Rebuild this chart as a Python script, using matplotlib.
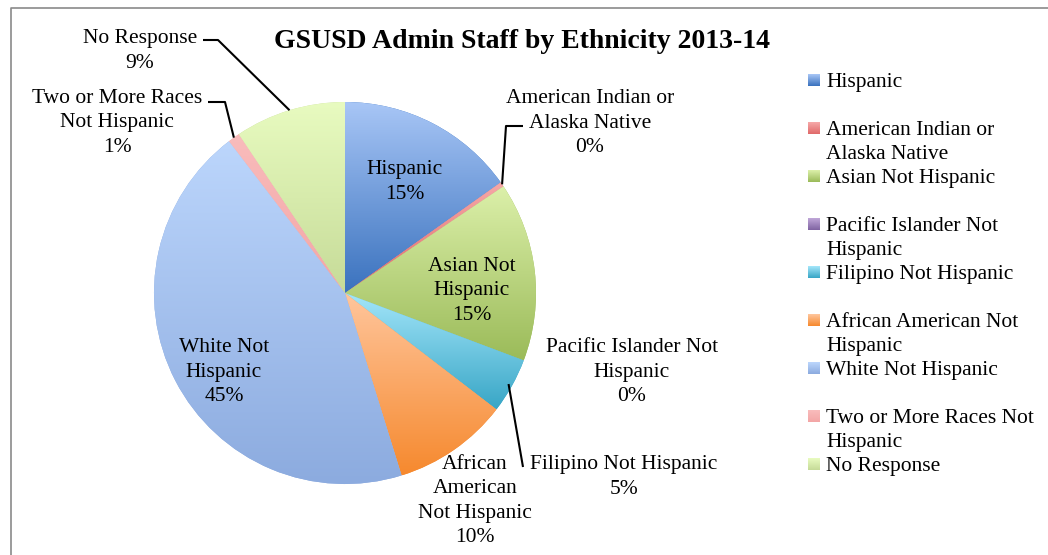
import matplotlib.pyplot as plt
import numpy as np
from matplotlib.colors import LinearSegmentedColormap
from matplotlib.patches import Rectangle

categories = ['Hispanic', 'American Indian or Alaska Native', 'Asian Not Hispanic',
              'Pacific Islander Not Hispanic', 'Filipino Not Hispanic',
              'African American Not Hispanic', 'White Not Hispanic',
              'Two or More Races Not Hispanic', 'No Response']
values = [15.2, 0.4, 15.2, 0.0, 4.7, 9.8, 44.5, 1.0, 9.4]
pct_labels = ['15%', '0%', '15%', '0%', '5%', '10%', '45%', '1%', '9%']
slice_labels = ['Hispanic', 'American Indian or\nAlaska Native', 'Asian Not\nHispanic',
                'Pacific Islander Not\nHispanic', 'Filipino Not Hispanic',
                'African\nAmerican\nNot Hispanic', 'White Not\nHispanic',
                'Two or More Races\nNot Hispanic', 'No Response']
legend_labels = ['Hispanic', 'American Indian or\nAlaska Native', 'Asian Not Hispanic',
                 'Pacific Islander Not\nHispanic', 'Filipino Not Hispanic',
                 'African American Not\nHispanic', 'White Not Hispanic',
                 'Two or More Races Not\nHispanic', 'No Response']

# gradient colours (light top, dark bottom)
grad_colors = [('#a8c6f6', '#3a72be'), ('#f6a8a8', '#e06a6a'), ('#dcf0aa', '#9bbb59'),
               ('#bfa6d8', '#8064a2'), ('#a4e6fa', '#38a6c6'), ('#ffc69d', '#f6892e'),
               ('#bcd6fc', '#8cabdf'), ('#f9bcbc', '#f3a6a6'), ('#e8fbc0', '#c6db98')]

W, H = 1048, 555
plt.rcParams['font.family'] = ['Liberation Serif', 'DejaVu Serif']

fig = plt.figure(figsize=(W / 100, H / 100), dpi=100)
ax = fig.add_axes([0, 0, 1, 1])
ax.set_xlim(0, W)
ax.set_ylim(0, H)
ax.axis('off')


def Y(y):
    return H - y


cx, cy, R = 345, Y(293), 191
wedges, _ = ax.pie(values, radius=R, center=(cx, cy), startangle=90, counterclock=False,
                   wedgeprops=dict(linewidth=0))

for w, (c_top, c_bot), v in zip(wedges, grad_colors, values):
    w.set_facecolor(c_bot)
    if v <= 0:
        continue
    th = np.radians(np.linspace(w.theta1, w.theta2, 60))
    ys = np.concatenate([[cy], cy + R * np.sin(th)])
    y0, y1 = ys.min(), ys.max()
    cmap = LinearSegmentedColormap.from_list('g', [c_bot, c_top])
    grad = np.linspace(0, 1, 256).reshape(-1, 1)
    im = ax.imshow(grad, extent=[cx - R, cx + R, y0, y1], origin='lower', cmap=cmap,
                   aspect='auto', zorder=2)
    im.set_clip_path(w)

ax.set_xlim(0, W)
ax.set_ylim(0, H)

fs = 15.5
ls = 1.38

# label placement (pixel layout, top-origin) and leader elbows
label_pos = {
    0: (405, 182, None),
    1: (590, 123, [(506, 126), (523, 126)]),
    2: (472, 291, None),
    3: (632, 372, None),
    4: (624, 477, [(523, 467)]),
    5: (475, 501, None),
    6: (224, 372, None),
    7: (117, 123, [(225, 102), (208, 102)]),
    8: (140, 51, [(218, 40), (203, 40)]),
}
for i, (lx, ly, pts) in label_pos.items():
    ax.text(lx, Y(ly), slice_labels[i] + '\n' + pct_labels[i], ha='center', va='center',
            fontsize=fs, linespacing=ls, zorder=5)
    if pts:
        w = wedges[i]
        mid = np.radians((w.theta1 + w.theta2) / 2)
        r0 = R if i != 4 else R * 0.98
        xs = [cx + r0 * np.cos(mid)] + [p[0] for p in pts]
        ys = [cy + r0 * np.sin(mid)] + [Y(p[1]) for p in pts]
        ax.plot(xs, ys, color='black', lw=1.5, zorder=6, solid_capstyle='butt')

# title
ax.text(522, Y(42), 'GSUSD Admin Staff by Ethnicity 2013-14', ha='center', va='center',
        fontsize=20, fontweight='bold')

# legend
for i, (lab, (c_top, c_bot)) in enumerate(zip(legend_labels, grad_colors)):
    ly = Y(80 + 48 * i)
    sq = Rectangle((808, ly - 6), 12, 12, linewidth=0, facecolor=c_bot, zorder=3)
    ax.add_patch(sq)
    cmap = LinearSegmentedColormap.from_list('g', [c_bot, c_top])
    im = ax.imshow(np.linspace(0, 1, 32).reshape(-1, 1), extent=[808, 820, ly - 6, ly + 6],
                   origin='lower', cmap=cmap, aspect='auto', zorder=4)
    im.set_clip_path(sq)
    ax.text(826, ly + 7, lab, ha='left', va='top', fontsize=fs, linespacing=ls)

ax.set_xlim(0, W)
ax.set_ylim(0, H)

# chart frame
ax.plot([11, 11, W], [0, Y(8), Y(8)], color='#8a8a8a', lw=1.2, zorder=1)

plt.savefig('out.png', dpi=100)
